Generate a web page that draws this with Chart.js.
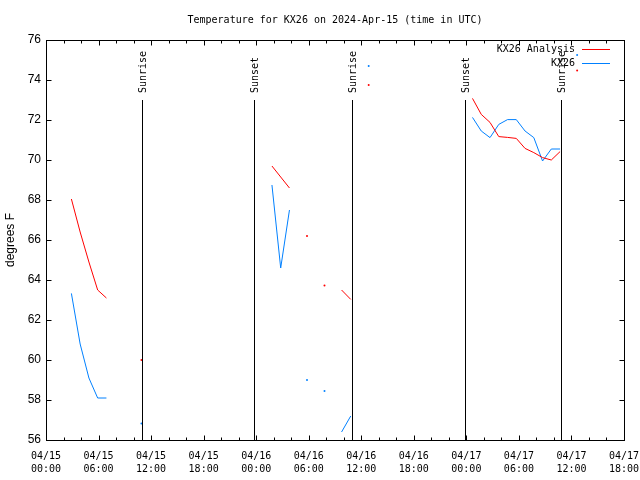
<!DOCTYPE html>
<html>
<head>
<meta charset="UTF-8">
<title>KX26 temperature</title>
<script src="https://cdn.jsdelivr.net/npm/chart.js@4.4.1/dist/chart.umd.min.js"></script>
<style>
  body { margin: 0; background: #fff; }
</style>
</head>
<body>
<canvas id="myChart" width="640" height="480"></canvas>

<script>
  // hours after 04/15 00:00 UTC
  let obsHours = [2.9, 3.9, 4.9, 5.9, 6.9,
                  10.9,
                  25.8, 26.8, 27.8,
                  29.8, 31.8,
                  33.75, 34.8,
                  36.85,
                  48.7, 49.7, 50.7, 51.7, 52.7, 53.7, 54.7, 55.7, 56.7, 57.7, 58.7,
                  60.65];
  let analysisTemps = [68.05, 66.4, 64.9, 63.5, 63.1,
                       60.0,
                       69.7, 69.15, 68.6,
                       66.2, 63.73,
                       63.5, 63.03,
                       73.75,
                       73.08, 72.28, 71.88, 71.17, 71.13, 71.08, 70.58, 70.37, 70.12, 70.0, 70.42,
                       74.47];
  let obsTemps = [63.33, 60.8, 59.1, 58.1, 58.1,
                  56.83,
                  68.75, 64.6, 67.5,
                  59.0, 58.45,
                  56.4, 57.2,
                  74.7,
                  72.13, 71.45, 71.12, 71.78, 72.02, 72.02, 71.45, 71.12, 69.95, 70.55, 70.55,
                  75.25];

  let eventNames = ['Sunrise', 'Sunset', 'Sunrise', 'Sunset', 'Sunrise'];
  let eventHours = [10.95, 23.75, 34.9, 47.8, 58.8];

  let tickHours = [0, 6, 12, 18, 24, 30, 36, 42, 48, 54, 60, 66];
  let tickDates = ['04/15', '04/15', '04/15', '04/15', '04/16', '04/16', '04/16', '04/16', '04/17', '04/17', '04/17', '04/17'];
  let tickTimes = ['00:00', '06:00', '12:00', '18:00', '00:00', '06:00', '12:00', '18:00', '00:00', '06:00', '12:00', '18:00'];

  let seriesNames = ['KX26 Analysis', 'KX26'];
  let seriesColors = ['#ff0000', '#0080ff'];

  const monoFont = '10px "DejaVu Sans Mono"';

  // points with a gap bigger than 1.5 h in between are not joined
  function makePoints(hours, temps) {
    let pts = [];
    for (let i = 0; i < hours.length; i++) {
      if (i > 0 && hours[i] - hours[i - 1] > 1.5) {
        pts.push({x: hours[i] - 0.5, y: null});
      }
      pts.push({x: hours[i], y: temps[i]});
    }
    return pts;
  }

  // a lone reading gets a small dot, joined ones none
  function loneDot(c) {
    let d = c.dataset.data, i = c.dataIndex;
    let prev = d[i - 1], next = d[i + 1];
    let lonePrev = !prev || prev.y === null;
    let loneNext = !next || next.y === null;
    return (lonePrev && loneNext) ? 1 : 0;
  }

  function line(ctx, x1, y1, x2, y2) {
    ctx.beginPath();
    ctx.moveTo(x1, y1);
    ctx.lineTo(x2, y2);
    ctx.stroke();
  }

  const gnuplotLook = {
    id: 'gnuplotLook',
    afterDatasetsDraw(chart) {
      let ctx = chart.ctx, a = chart.chartArea;
      let xs = chart.scales.x, ys = chart.scales.y;
      ctx.save();
      ctx.strokeStyle = '#000';
      ctx.lineWidth = 1;
      let L = Math.round(a.left) + 0.5, R = Math.round(a.right) + 0.5;
      let T = Math.round(a.top) + 0.5, B = Math.round(a.bottom) + 0.5;
      ctx.strokeRect(L, T, R - L, B - T);

      for (let h = xs.min; h <= xs.max; h += 2) {
        let px = Math.round(xs.getPixelForValue(h)) + 0.5;
        let len = (h % 6 == 0) ? 5 : 3;
        line(ctx, px, B, px, B - len);
        line(ctx, px, T, px, T + len);
      }
      for (let v = ys.min; v <= ys.max; v += 2) {
        let py = Math.round(ys.getPixelForValue(v)) + 0.5;
        line(ctx, L, py, L + 5, py);
        line(ctx, R, py, R - 5, py);
      }

      ctx.fillStyle = '#000';
      ctx.font = monoFont;
      ctx.textAlign = 'center';
      ctx.textBaseline = 'middle';
      for (let i = 0; i < tickHours.length; i++) {
        let px = xs.getPixelForValue(tickHours[i]);
        ctx.fillText(tickDates[i], px, a.bottom + 16);
        ctx.fillText(tickTimes[i], px, a.bottom + 29);
      }

      // sunrise / sunset markers
      let lineTop = Math.round(ys.getPixelForValue(73));
      for (let i = 0; i < eventHours.length; i++) {
        let px = Math.round(xs.getPixelForValue(eventHours[i])) + 0.5;
        line(ctx, px, lineTop, px, B);
        ctx.save();
        ctx.translate(px + 1, lineTop - 7);
        ctx.rotate(-Math.PI / 2);
        ctx.textAlign = 'left';
        ctx.fillText(eventNames[i], 0, 0);
        ctx.restore();
      }

      ctx.fillText('Temperature for KX26 on 2024-Apr-15 (time in UTC)', (a.left + a.right) / 2, 20);

      ctx.textAlign = 'right';
      for (let i = 0; i < seriesNames.length; i++) {
        let y = 49 + i * 14;
        ctx.fillStyle = '#000';
        ctx.fillText(seriesNames[i], 575, y);
        ctx.fillStyle = seriesColors[i];
        ctx.fillRect(582, y, 28, 1);
      }
      ctx.restore();
    }
  };

  new Chart('myChart', {
    type: 'line',
    data: {
      datasets: [
        {
          label: seriesNames[0],
          data: makePoints(obsHours, analysisTemps),
          borderColor: seriesColors[0],
          backgroundColor: seriesColors[0],
          borderWidth: 1,
          pointRadius: loneDot,
          pointBorderWidth: 0,
          pointHoverRadius: 0
        },
        {
          label: seriesNames[1],
          data: makePoints(obsHours, obsTemps),
          borderColor: seriesColors[1],
          backgroundColor: seriesColors[1],
          borderWidth: 1,
          pointRadius: loneDot,
          pointBorderWidth: 0,
          pointHoverRadius: 0
        }
      ]
    },
    options: {
      responsive: false,
      animation: false,
      devicePixelRatio: 1,
      spanGaps: false,
      layout: {autoPadding: false, padding: {top: 40, right: 16, left: 0, bottom: 0}},
      plugins: {
        legend: {display: false},
        title: {display: false},
        tooltip: {enabled: false}
      },
      scales: {
        x: {
          type: 'linear',
          min: 0,
          max: 66,
          grid: {display: false, tickLength: 0},
          border: {display: false},
          ticks: {display: false, stepSize: 6},
          afterFit: function(s) { s.height = 40; }
        },
        y: {
          min: 56,
          max: 76,
          grid: {display: false, tickLength: 0},
          border: {display: false},
          afterFit: function(s) { s.width = 46; },
          title: {
            display: true,
            text: 'degrees F',
            color: '#000',
            font: {family: 'Liberation Sans', size: 12},
            padding: {top: 3, bottom: 0}
          },
          ticks: {
            stepSize: 2,
            padding: 5,
            color: '#000',
            font: {family: 'Liberation Sans', size: 12}
          }
        }
      }
    },
    plugins: [gnuplotLook]
  });
</script>

</body>
</html>
